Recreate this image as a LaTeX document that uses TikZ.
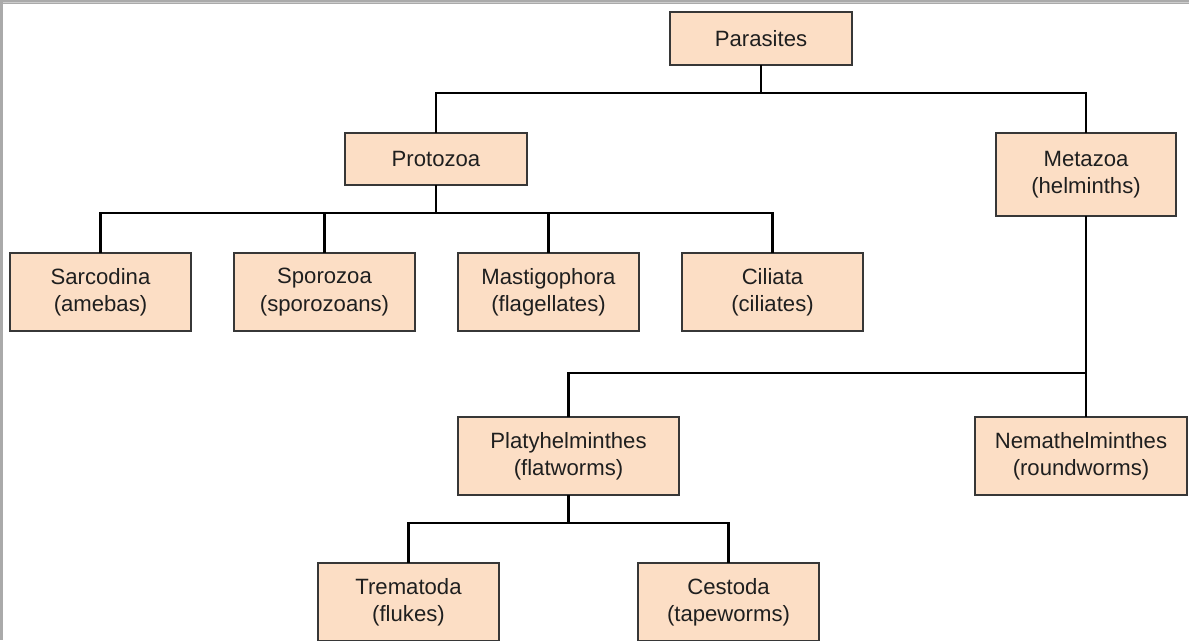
\documentclass[tikz,border=0pt]{standalone}
\usepackage{fontspec}
\setmainfont{Liberation Sans}
\definecolor{boxfill}{RGB}{252,222,197}
\definecolor{boxline}{RGB}{55,55,55}
\definecolor{framegray}{RGB}{170,170,170}
\definecolor{framelight}{RGB}{205,205,205}
\begin{document}
\begin{tikzpicture}[x=0.75pt,y=-0.75pt,
  taxon/.style={draw=boxline,fill=boxfill,line width=1.1pt,rectangle,align=center,
    inner sep=0pt,font=\fontsize{16.6}{20.5}\selectfont,text=black!88},
  link/.style={draw=black,line width=1.7pt,line cap=rect}]
\useasboundingbox (0,0) rectangle (1189,640);
\clip (0,0) rectangle (1189,640);
\fill[white] (0,0) rectangle (1189,640);
% frame
\fill[framegray] (0,0) rectangle (1189,4);
\fill[framelight] (0,1.5) rectangle (1189,2.8);
\fill[framegray] (0,0) rectangle (2.5,640);
% nodes
\node[taxon,minimum width=136.5pt,minimum height=39.75pt] (par) at (761,38.5) {Parasites};
\node[taxon,minimum width=136.5pt,minimum height=39pt] (pro) at (436,159) {Protozoa};
\node[taxon,minimum width=135pt,minimum height=62.25pt] (met) at (1086,174.5) {Metazoa\\(helminths)};
\node[taxon,minimum width=135.75pt,minimum height=58.5pt] (sar) at (100.5,292) {Sarcodina\\(amebas)};
\node[taxon,minimum width=135.75pt,minimum height=58.5pt] (spo) at (324.5,292) {Sporozoa\\(sporozoans)};
\node[taxon,minimum width=135.75pt,minimum height=58.5pt] (mas) at (548.5,292) {Mastigophora\\(flagellates)};
\node[taxon,minimum width=135.75pt,minimum height=58.5pt] (cil) at (772.5,292) {Ciliata\\(ciliates)};
\node[taxon,minimum width=165.75pt,minimum height=58.5pt] (pla) at (568.5,456) {Platyhelminthes\\(flatworms)};
\node[taxon,minimum width=159pt,minimum height=58.5pt] (nem) at (1081,456) {Nemathelminthes\\(roundworms)};
\node[taxon,minimum width=135.75pt,minimum height=58.5pt] (tre) at (408.5,602) {Trematoda\\(flukes)};
\node[taxon,minimum width=135.75pt,minimum height=58.5pt] (ces) at (728.5,602) {Cestoda\\(tapeworms)};
% levels
\coordinate (l1) at (0,93);
\coordinate (l2) at (0,213);
\coordinate (l3) at (0,373);
\coordinate (l4) at (0,523);
% connectors
\draw[link] (par.south) -- (par.south |- l1);
\draw[link] (pro.north) -- (pro.north |- l1) -- (met.north |- l1) -- (met.north);
\draw[link] (pro.south) -- (pro.south |- l2);
\draw[link] (sar.north) -- (sar.north |- l2) -- (cil.north |- l2) -- (cil.north);
\draw[link] (spo.north) -- (spo.north |- l2);
\draw[link] (mas.north) -- (mas.north |- l2);
\draw[link] (met.south) -- (met.south |- nem.north);
\draw[link] (pla.north) -- (pla.north |- l3) -- (met.south |- l3);
\draw[link] (pla.south) -- (pla.south |- l4);
\draw[link] (tre.north) -- (tre.north |- l4) -- (ces.north |- l4) -- (ces.north);
\end{tikzpicture}
\end{document}
